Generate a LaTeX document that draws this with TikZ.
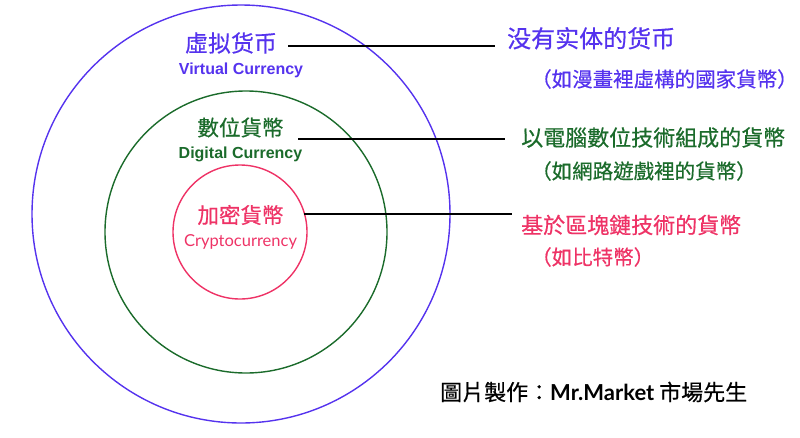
\documentclass[tikz,border=0pt]{standalone}
\usepackage{fontspec}
\usepackage{xcolor}
\usepackage{tikz}
\newfontfamily\cjk[FakeBold=0.5]{Noto Sans CJK TC}
\newfontfamily\lato{Lato}
\newfontfamily\arial{Liberation Sans}
\definecolor{vblue}{HTML}{5533EE}
\definecolor{dgreen}{HTML}{1B6B2B}
\definecolor{cred}{HTML}{EE3366}

\begin{document}
\begin{tikzpicture}[x=1pt, y=-1pt, inner sep=0pt,
        ring/.style = {draw, circle, line width=1.4pt},
        link/.style = {draw, line width=1.5pt},
        title/.style = {font=\cjk\fontsize{23}{23}\selectfont},
        desc/.style = {font=\cjk\fontsize{22}{22}\selectfont, anchor=west},
        note/.style = {font=\cjk\fontsize{20.5}{21}\selectfont, anchor=west}]
        \useasboundingbox (0,0) rectangle (800,437);

        % the three circles
        \node[ring, draw=vblue, minimum size=418pt] (vring) at (241,214) {};
        \node[ring, draw=dgreen, minimum size=282pt] (dring) at (246,232) {};
        \node[ring, draw=cred, minimum size=134pt] (cring) at (240,232) {};

        % titles inside the circles
        \node[title, text=vblue] (vtitle) at (231,43) {虛拟货币};
        \node[text=vblue, font=\arial\bfseries\fontsize{16}{16}\selectfont] (ven) at (241,70) {Virtual Currency};
        \node[title, text=dgreen, font=\cjk\fontsize{21.5}{22}\selectfont] (dtitle) at (240.5,127.5) {數位貨幣};
        \node[text=dgreen, font=\arial\bfseries\fontsize{16}{16}\selectfont] (den) at (240.5,154) {Digital Currency};
        \node[title, text=cred, font=\cjk\fontsize{21.5}{22}\selectfont] (ctitle) at (240.5,215) {加密貨幣};
        \node[text=cred, font=\lato\fontsize{16.5}{17}\selectfont] (cen) at (240.5,241.5) {Cryptocurrency};

        % texts on the right
        \node[desc, text=vblue, font=\cjk\fontsize{24}{24}\selectfont] (vdesc) at (507,38.3) {没有实体的货币};
        \node[note, text=vblue] (vnote) at (531,79) {（如漫畫裡虛構的國家貨幣）};
        \node[desc, text=dgreen] (ddesc) at (521,137.5) {以電腦數位技術組成的貨幣};
        \node[note, text=dgreen] (dnote) at (531,171) {（如網路遊戲裡的貨幣）};
        \node[desc, text=cred] (cdesc) at (521,225) {基於區塊鏈技術的貨幣};
        \node[note, text=cred] (cnote) at (531,257) {（如比特幣）};

        % connectors
        \coordinate (vl) at (288,46);
        \coordinate (vr) at (495,46);
        \coordinate (dl) at (298,139);
        \coordinate (dr) at (505,139);
        \coordinate (cl) at (304,214);
        \coordinate (cr) at (512,214);
        \draw[link] (vl) -- (vr);
        \draw[link] (dl) -- (dr);
        \draw[link] (cl) -- (cr); % one line per circle

        \node[anchor=west, font=\cjk\fontsize{22}{22}\selectfont] (credit) at (440,392) {圖片製作：{\lato\bfseries Mr.Market} 市場先生};
      \end{tikzpicture}
\end{document}
